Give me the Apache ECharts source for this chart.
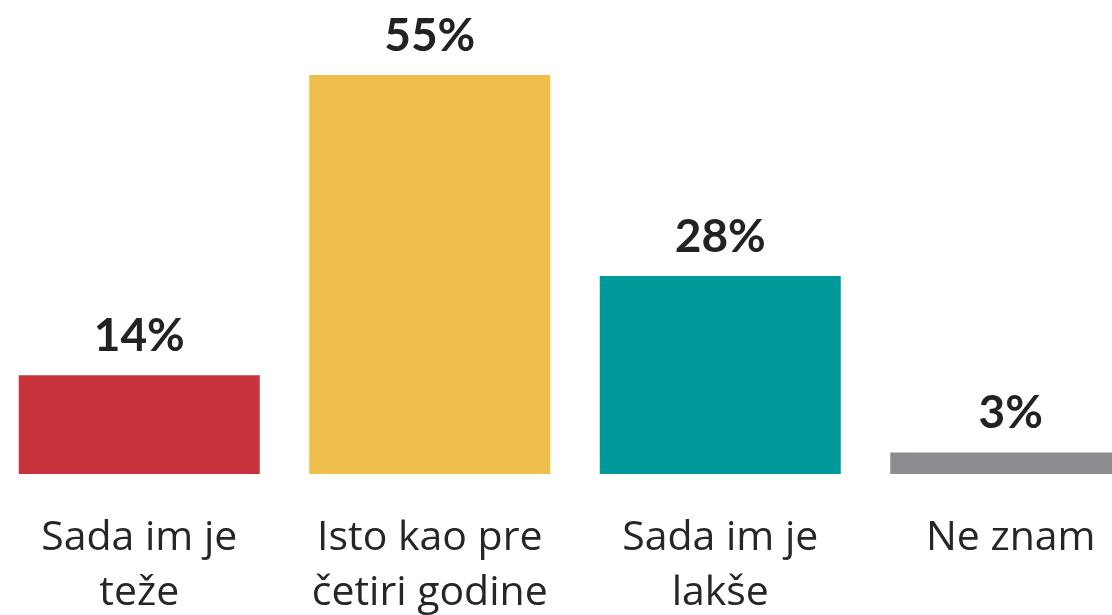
<!DOCTYPE html>
<html>
<head>
<meta charset="utf-8">
<script src="https://cdn.jsdelivr.net/npm/echarts@6/dist/echarts.min.js"></script>
<style>
  html, body { margin: 0; padding: 0; background: #fff; }
  #chart { width: 1112px; height: 615px; }
</style>
</head>
<body>
<div id="chart"></div>
<script>
// Kategorije i vrednosti (procenti)
const categories = ['Sada im je\nteže', 'Isto kao pre\nčetiri godine', 'Sada im je\nlakše', 'Ne znam'];
const values = [13.7, 55.4, 27.5, 3.0];
const valueLabels = ['14%', '55%', '28%', '3%'];
const barColors = ['#C8343B', '#F0BE4A', '#009999', '#8A8C8F'];

const myChart = echarts.init(document.getElementById('chart'));

const option = {
  animation: false,
  grid: {
    left: -6, width: 1162, top: 42, bottom: 141,
    outerBoundsMode: 'none'
  },
  xAxis: {
    type: 'category',
    data: categories,
    axisLine: { show: false },
    axisTick: { show: false },
    axisLabel: {
      interval: 0,
      margin: 37,
      color: '#262626',
      fontFamily: 'Open Sans',
      fontSize: 41,
      lineHeight: 55
    }
  },
  yAxis: {
    type: 'value',
    min: 0,
    max: 60,
    show: false,
    splitLine: { show: false }
  },
  series: [{
    type: 'bar',
    barWidth: 241,
    data: values.map((v, i) => ({ value: v, itemStyle: { color: barColors[i] } })),
    label: {
      show: true,
      position: 'top',
      distance: 16,
      color: '#222',
      fontFamily: 'Lato',
      fontWeight: 'bold',
      fontSize: 46,
      formatter: p => valueLabels[p.dataIndex]
    }
  }]
};

myChart.setOption(option);

window.addEventListener('resize', () => {
  myChart.resize();
});
</script>
</body>
</html>
